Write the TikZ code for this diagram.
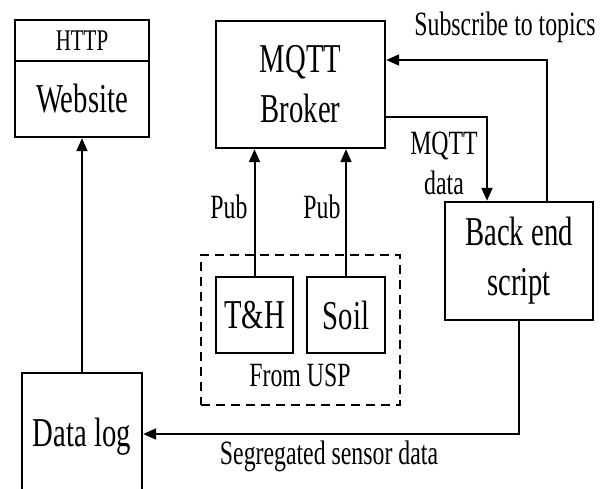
\documentclass[tikz,border=0pt]{standalone}
\usepackage{fontspec}
\setmainfont{Liberation Serif}[FakeStretch=0.7]
\usetikzlibrary{arrows.meta}
\tikzset{
  box/.style={draw, line width=2.4pt, inner sep=0pt, align=center, font=\fontsize{41}{50}\selectfont},
  lab/.style={inner sep=0pt, font=\fontsize{34}{40}\selectfont, align=center},
  arr/.style={line width=2pt, -{Triangle[length=13pt,width=11pt]}},
  plain/.style={line width=2pt},
}
\begin{document}
\begin{tikzpicture}[x=1pt,y=-1pt]
\useasboundingbox (0,0) rectangle (601,488);
% boxes
\node[box, minimum width=134pt, minimum height=41pt, font=\fontsize{30}{36}\selectfont] (http) at (82,40.5) {HTTP};
\node[box, minimum width=134pt, minimum height=76pt] (web) at (82,99) {Website};
\node[box, minimum width=169pt, minimum height=127pt] (broker) at (300.5,84.5) {MQTT\\Broker};
\node[box, minimum width=148pt, minimum height=118pt] (backend) at (519,261) {Back end\\script};
\node[draw, dashed, line width=2.5pt, dash pattern=on 9pt off 6pt, minimum width=199pt, minimum height=150pt, inner sep=0pt] (usp) at (300.5,330) {};
\node[box, minimum width=77pt, minimum height=76pt] (th) at (254.5,315) {T\&H};
\node[box, minimum width=78pt, minimum height=76pt] (soil) at (346,315) {Soil};
\node[box, minimum width=120pt, minimum height=127pt] (datalog) at (82,436.5) {Data log};
% labels
\node[lab] (fromusp) at (300,375) {From USP};
\node[lab] (pub1) at (229,207) {Pub};
\node[lab] (pub2) at (322,207) {Pub};
\node[lab] (mqttdata) at (444,163) {MQTT\\data};
\node[lab] (subscribe) at (505,27) {Subscribe to topics};
\node[lab] (segregated) at (329,456) {Segregated sensor data};
% helper coordinates
\coordinate (m1) at (487,117);
\coordinate (s1) at (547,60);
\coordinate (g1) at (519,434);
% connectors
\draw[arr] (datalog.north) -- (web.south);
\draw[arr] (th.north) -- (th.north |- broker.south);
\draw[arr] (soil.north) -- (soil.north |- broker.south);
\draw[arr] (broker.east |- m1) -- (m1) -- (m1 |- backend.north);
\draw[arr] (s1 |- backend.north) -- (s1) -- (s1 -| broker.east);
\draw[arr] (backend.south) -- (g1) -- (g1 -| datalog.east);
\end{tikzpicture}
\end{document}
